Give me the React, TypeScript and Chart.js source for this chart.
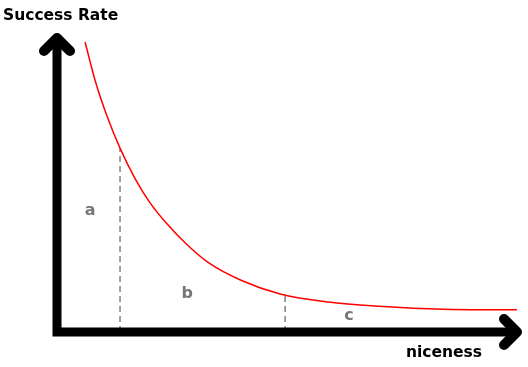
import React, { useEffect, useRef } from "react";
import { Chart, registerables } from "chart.js";

Chart.register(...registerables);

// Curve: success rate vs niceness (arbitrary 0-100 units)
const niceness = [6.1, 8.4, 10.8, 13.7, 17, 20, 24, 28, 33, 40, 48.5, 59, 70, 84, 100];
const successRate = [97, 83.5, 72.5, 61.5, 51.2, 43.7, 36, 29.6, 23.1, 17.3, 12.7, 10, 8.6, 7.6, 7.4];

// Dashed dividers between zones
const dividerX = [13.7, 49.6];
const dividerTop = [61.5, 12.4];

// Zone labels
const zoneLabels = ["a", "b", "c"];
const zoneLabelX = [7.2, 28.3, 63.5];
const zoneLabelY = [40.5, 12.7, 5.4];

const yAxisTitle = "Success Rate";
const xAxisTitle = "niceness";

const FONT = "'DejaVu Sans', sans-serif";

const axesPlugin = {
  id: "handAxes",
  afterDatasetsDraw(chart: any) {
    const { ctx, scales } = chart;
    const xs = scales.x;
    const ys = scales.y;
    const x0 = xs.getPixelForValue(0);
    const y0 = ys.getPixelForValue(0);
    const yTop = ys.getPixelForValue(100);
    const xEnd = xs.getPixelForValue(100) + 5;
    ctx.save();
    ctx.strokeStyle = "#000";
    ctx.lineWidth = 9;
    ctx.lineJoin = "miter";
    ctx.lineCap = "butt";
    ctx.beginPath();
    ctx.moveTo(x0, yTop + 6);
    ctx.lineTo(x0, y0);
    ctx.lineTo(xEnd - 6, y0);
    ctx.stroke();
    ctx.lineWidth = 10;
    ctx.lineCap = "round";
    ctx.lineJoin = "round";
    ctx.beginPath();
    ctx.moveTo(x0 - 13, yTop + 18);
    ctx.lineTo(x0, yTop + 5);
    ctx.lineTo(x0 + 13, yTop + 18);
    ctx.stroke();
    ctx.beginPath();
    ctx.moveTo(xEnd - 18, y0 - 13);
    ctx.lineTo(xEnd - 5, y0);
    ctx.lineTo(xEnd - 18, y0 + 13);
    ctx.stroke();

    // zone labels
    ctx.fillStyle = "#777";
    ctx.font = `bold 16px ${FONT}`;
    ctx.textAlign = "center";
    ctx.textBaseline = "middle";
    zoneLabels.forEach((t, i) => {
      ctx.fillText(t, xs.getPixelForValue(zoneLabelX[i]), ys.getPixelForValue(zoneLabelY[i]));
    });

    // axis titles
    ctx.fillStyle = "#000";
    ctx.font = `bold 15.5px ${FONT}`;
    ctx.textAlign = "left";
    ctx.textBaseline = "middle";
    ctx.fillText(yAxisTitle, 3, 16);
    ctx.textAlign = "right";
    ctx.fillText(xAxisTitle, 482, 353);
    ctx.restore();
  },
};

export default function App() {
  const ref = useRef<HTMLCanvasElement>(null);
  useEffect(() => {
    if (!ref.current) return;
    const datasets: any[] = [
      {
        data: niceness.map((x, i) => ({ x, y: successRate[i] })),
        borderColor: "#ff0000",
        borderWidth: 1.5,
        pointRadius: 0,
        cubicInterpolationMode: "monotone",
        fill: false,
      },
      ...dividerX.map((x, i) => ({
        data: [
          { x, y: 0 },
          { x, y: dividerTop[i] },
        ],
        borderColor: "#808080",
        borderWidth: 1.5,
        borderDash: [6, 4],
        pointRadius: 0,
        fill: false,
      })),
    ];
    const chart = new Chart(ref.current, {
      type: "line",
      data: { datasets },
      options: {
        animation: false,
        responsive: true,
        maintainAspectRatio: false,
        layout: { padding: { left: 57, top: 33, right: 11, bottom: 35 } },
        plugins: { legend: { display: false }, tooltip: { enabled: false } },
        scales: {
          x: { type: "linear", min: 0, max: 100, display: false },
          y: { type: "linear", min: 0, max: 100, display: false },
        },
      },
      plugins: [axesPlugin],
    });
    return () => chart.destroy();
  }, []);
  return (
    <div style={{ position: "absolute", left: 0, top: 0, width: 528, height: 367, background: "#fff" }}>
      <canvas ref={ref} />
    </div>
  );
}
